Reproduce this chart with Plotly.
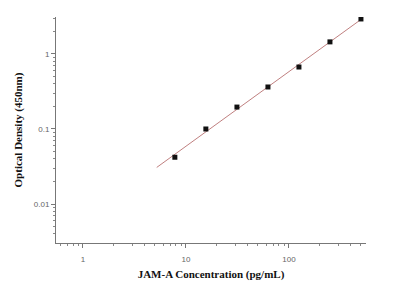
import numpy as np
import plotly.graph_objects as go

conc = [7.8, 15.6, 31.25, 62.5, 125, 250, 500]
od = [0.042, 0.100, 0.196, 0.363, 0.67, 1.45, 2.93]
fit_range = [5.2, 500]

lx = np.log10(conc)
ly = np.log10(od)
b, a = np.polyfit(lx, ly, 1)
fx = np.logspace(np.log10(fit_range[0]), np.log10(fit_range[1]), 50)
fy = 10 ** (a + b * np.log10(fx))

fig = go.Figure()
fig.add_trace(go.Scatter(x=fx, y=fy, mode="lines",
                         line=dict(color="#c08080", width=1), hoverinfo="skip"))
fig.add_trace(go.Scatter(x=conc, y=od, mode="markers",
                         marker=dict(symbol="square", size=5, color="#111111")))

axis_common = dict(
    type="log", showgrid=False, zeroline=False, showline=True,
    linecolor="#777777", linewidth=1, ticks="outside", ticklen=4,
    tickcolor="#777777", tickfont=dict(family="Liberation Sans", size=8, color="#666666"),
    dtick=1, automargin=False,
    minor=dict(ticks="outside", ticklen=2, tickcolor="#888888", showgrid=False, dtick="D1"),
)

title_font = dict(family="Liberation Serif", size=11, color="#111111")

fig.update_layout(
    width=400, height=281,
    margin=dict(l=56, r=34, t=17, b=38),
    paper_bgcolor="white", plot_bgcolor="white",
    showlegend=False,
    xaxis=dict(axis_common, range=[-0.262, 2.748], ticklabelstandoff=4,
               title=dict(text="<b>JAM-A Concentration (pg/mL)</b>",
                          font=title_font, standoff=9)),
    yaxis=dict(axis_common, range=[-2.52, 0.493],
               title=dict(text="<b>Optical Density (450nm)</b>",
                          font=title_font, standoff=8)),
)

fig.write_html("out.html")
